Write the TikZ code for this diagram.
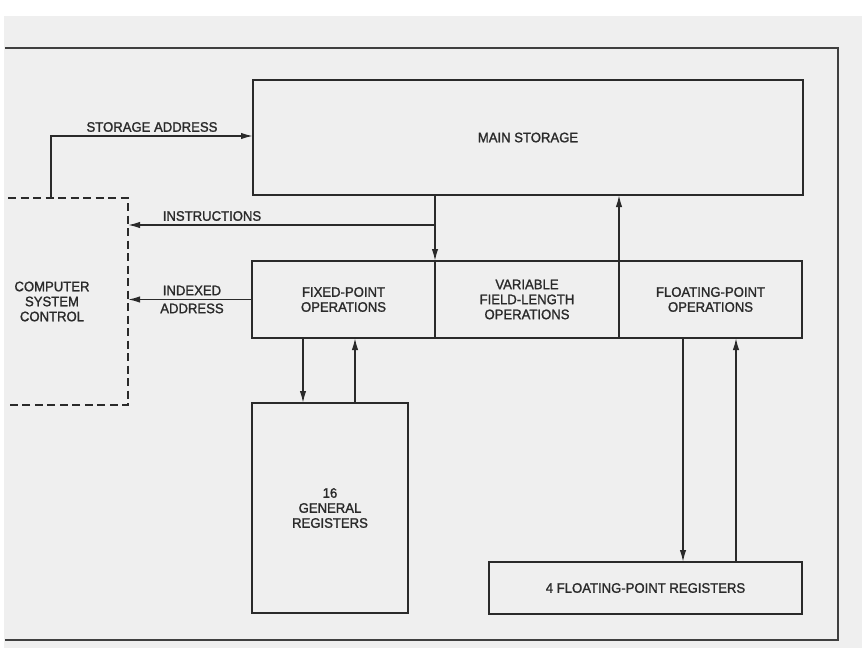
\documentclass[tikz,border=0pt]{standalone}
\usepackage{fontspec}
\setmainfont{Liberation Sans}[FakeStretch=0.95, FakeBold=1.4]
\usetikzlibrary{arrows.meta}
\definecolor{ink}{HTML}{2A2A2A}
\definecolor{paper}{HTML}{EFEFEF}
\begin{document}
\begin{tikzpicture}[x=1pt,y=-1pt,
  every node/.style={inner sep=0pt, outer sep=0pt, text=ink, font=\fontsize{13.8}{15}\selectfont, align=center},
  box/.style={draw=ink, line width=2pt, rectangle},
  conn/.style={draw=ink, line width=1.6pt},
  arr/.style={conn, -{Latex[length=12pt,width=6.5pt]}},
  dashbox/.style={draw=ink, line width=2.4pt, dash pattern=on 8pt off 4.5pt},
  frame/.style={draw=ink!90, line width=1.6pt}]
\useasboundingbox (0,0) rectangle (862,648);
\fill[paper] (4,16) rectangle (862,648);
\draw[frame] (5,48) -- (838,48) -- (838,640) -- (5,640);

% blocks
\node[box, minimum width=550, minimum height=115] (ms) at (528,137.5) {MAIN STORAGE};
\node[minimum width=152, minimum height=207] (csc) at (52,301.5) {COMPUTER\\SYSTEM\\CONTROL};
\coordinate (cl) at (8,0);
\draw[dashbox] (csc.north -| cl) -- (csc.north east) -- (csc.south east) -- (csc.south -| cl);

\node[box, minimum width=183, minimum height=77] (fp) at (343.5,299.5) {FIXED-POINT\\OPERATIONS};
\node[box, minimum width=184, minimum height=77] (vfl) at (527,299.5) {VARIABLE\\FIELD-LENGTH\\OPERATIONS};
\node[box, minimum width=183, minimum height=77] (flp) at (710.5,299.5) {FLOATING-POINT\\OPERATIONS};
\node[box, minimum width=156, minimum height=210] (gr) at (330,508) {16\\GENERAL\\REGISTERS};
\node[box, minimum width=313, minimum height=52] (fpr) at (645.5,588) {4 FLOATING-POINT REGISTERS};

% storage address
\coordinate (sa) at (51,136);
\draw[arr] (sa |- csc.north) |- (ms.west |- sa);
\node (lsa) at (152,127) {STORAGE ADDRESS};

% instructions
\coordinate (ijy) at (0,225);
\coordinate (ij) at (fp.north east |- ijy);
\draw[conn] (ms.south -| ij) -- (ij);
\draw[arr] (ij) -- (csc.east |- ij);
\draw[arr] (ij) -- (fp.north east);
\node (lin) at (212,216) {INSTRUCTIONS};

% indexed address
\draw[arr] (fp.west) -- (csc.east |- fp.west);
\node (lia) at (192,299.5) {INDEXED\\[3pt]ADDRESS};

% floating point to storage
\draw[arr] (vfl.north east) -- (ms.south -| vfl.north east);

% registers
\coordinate (d1) at (303,0);
\coordinate (u1) at (355,0);
\coordinate (d2) at (683,0);
\coordinate (u2) at (736,0);
\draw[arr] (fp.south -| d1) -- (gr.north -| d1);
\draw[arr] (gr.north -| u1) -- (fp.south -| u1);
\draw[arr] (flp.south -| d2) -- (fpr.north -| d2);
\draw[arr] (fpr.north -| u2) -- (flp.south -| u2);
\end{tikzpicture}
\end{document}
